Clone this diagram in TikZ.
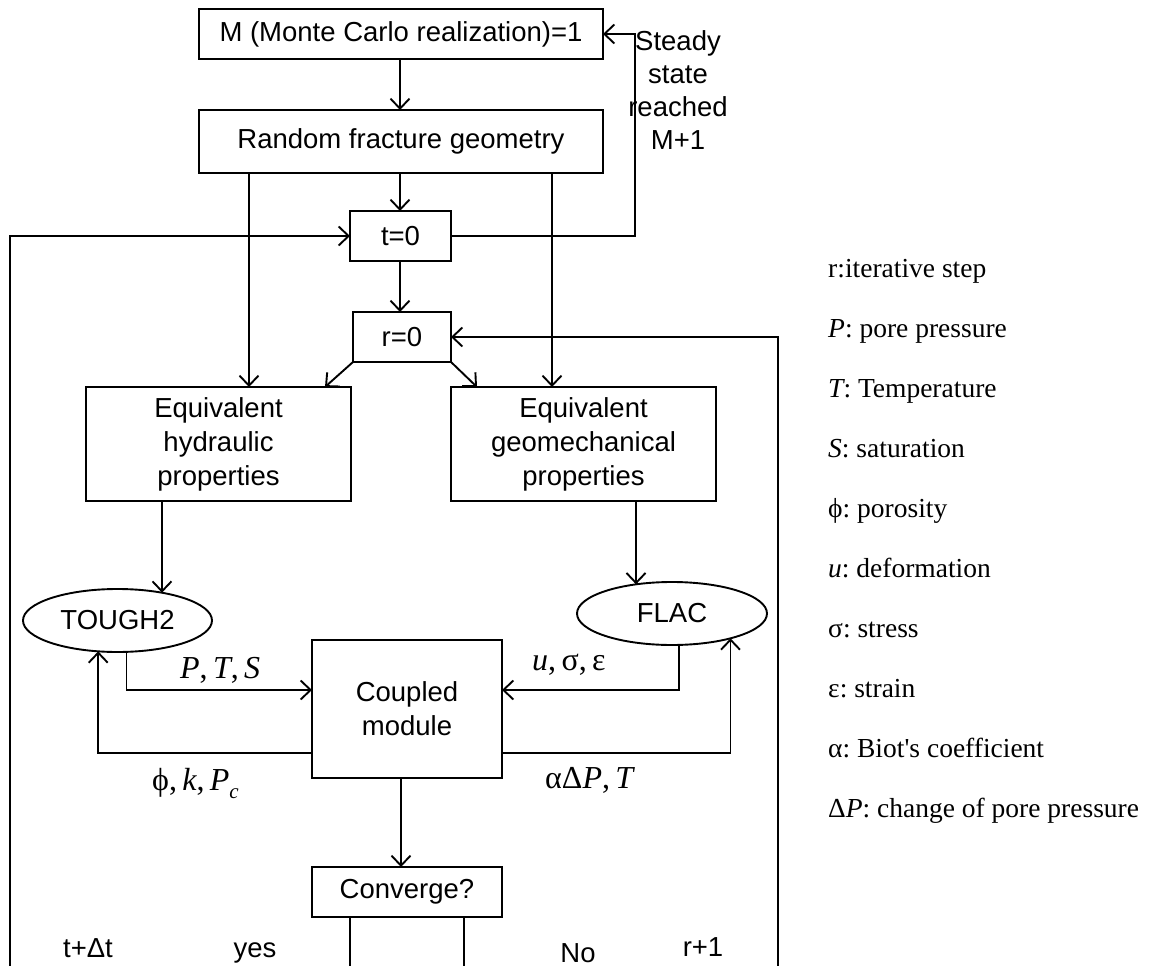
\documentclass[tikz,border=0pt]{standalone}
\usepackage{fontspec}
\setmainfont{Liberation Sans}
\newfontfamily\tnr[Ligatures=ResetAll]{Liberation Serif}
\usetikzlibrary{arrows.meta,shapes.geometric}
\begin{document}
\frenchspacing
\begin{tikzpicture}[x=1pt,y=-1pt,
  box/.style={draw,line width=1.9pt,inner sep=0pt,outer sep=0pt,align=center,font=\fontsize{27.5}{34}\selectfont},
  ell/.style={draw,ellipse,line width=1.9pt,inner sep=0pt,outer sep=0pt,font=\fontsize{27.5}{34}\selectfont},
  arr/.style={line width=1.9pt,-{Straight Barb[length=10pt,width=19pt]}},
  conn/.style={line width=1.9pt},
  lbl/.style={inner sep=0pt,font=\fontsize{27.5}{33.3}\selectfont},
  mth/.style={inner sep=0pt,anchor=base west,font=\tnr\fontsize{32}{36}\selectfont},
  leg/.style={inner sep=0pt,anchor=base west,font=\tnr\fontsize{27.5}{33}\selectfont}
]
\useasboundingbox (0,0) rectangle (1157,966);

% column / row helpers
\coordinate (c400) at (400,0);
\coordinate (c249) at (249,0);
\coordinate (c552) at (552,0);
\coordinate (c635) at (635,0);
\coordinate (c325) at (325,0);
\coordinate (c477) at (477,0);
\coordinate (c401) at (401,0);
\coordinate (c350) at (350,0);
\coordinate (c464) at (464,0);
\coordinate (r690) at (0,690);
\coordinate (r753) at (0,753);
\coordinate (lb) at (10,966);
\coordinate (rb) at (778,966);
\coordinate (bot) at (0,966);

% nodes
\node[box,minimum width=404,minimum height=50] (m) at (401,34) {M (Monte Carlo realization)=1};
\node[box,minimum width=404,minimum height=63] (rand) at (401,141.5) {Random fracture geometry};
\node[box,minimum width=101,minimum height=50] (t0) at (400.5,236) {t=0};
\node[box,minimum width=98,minimum height=50] (r0) at (402,337) {r=0};
\node[box,minimum width=265,minimum height=114] (hyd) at (218.5,444) {Equivalent\\hydraulic\\properties};
\node[box,minimum width=265,minimum height=114] (geo) at (583.5,444) {Equivalent\\geomechanical\\properties};
\node[ell,minimum width=189,minimum height=63] (tough) at (117.5,620.5) {TOUGH2};
\node[ell,minimum width=190,minimum height=63] (flac) at (672,613.5) {FLAC};
\node[box,minimum width=190,minimum height=138] (coup) at (407,709) {Coupled\\module};
\node[box,minimum width=190,minimum height=50] (conv) at (407,892) {Converge?};

\node[lbl,align=center] (steady) at (678,90) {Steady\\state\\reached\\M+1};

% connectors
\draw[arr] (m.south -| c400) -- (rand.north -| c400);
\draw[arr] (rand.south -| c400) -- (t0.north -| c400);
\draw[arr] (rand.south -| c249) -- (hyd.north -| c249);
\draw[arr] (rand.south -| c552) -- (geo.north -| c552);
\draw[arr] (t0.south -| c400) -- (r0.north -| c400);
\draw[arr] (r0.south west) -- (hyd.north -| c325);
\draw[arr] (r0.south east) -- (geo.north -| c477);
\draw[arr] (t0.east) -- (t0.east -| c635) |- (m.east);
\draw[arr] (lb) |- (t0.west);
\draw[arr] (rb) |- (r0.east);
\draw[arr] (hyd.south -| tough.32.73) -- (tough.32.73);
\draw[arr] (tough.-74.84) |- (coup.west |- r690);
\draw[arr] (coup.west |- r753) -| (tough.-122.32);
\draw[arr] (geo.south -| flac.141.9) -- (flac.141.9);
\draw[arr] (flac.-77.44) |- (coup.east |- r690);
\draw[arr] (coup.east |- r753) -| (flac.-23.85);
\draw[arr] (coup.south -| c401) -- (conv.north -| c401);
\draw[conn] (conv.south -| c350) -- (c350 |- bot);
\draw[conn] (conv.south -| c464) -- (c464 |- bot);

% connector labels
\node[mth] (lpts) at (180,678) {{\itshape P},\,{\itshape T},\,{\itshape S}};
\node[mth] (luse) at (532,670) {{\itshape u},\,σ,\,ε};
\node[mth] (lphi) at (152,790) {ϕ,\,{\itshape k},\,{\itshape P}\raisebox{-8pt}{\fontsize{21}{21}\selectfont\itshape c}};
\node[mth] (lalp) at (545,788) {αΔ{\itshape P},\,{\itshape T}};

\node[lbl,anchor=base] (ltdt) at (88,957) {t+Δt};
\node[lbl,anchor=base] (lyes) at (255,957) {yes};
\node[lbl,anchor=base] (lno) at (578,962) {No};
\node[lbl,anchor=base] (lr1) at (703,956) {r+1};

% legend
\node[leg] (g0) at (828,277) {r:iterative step};
\node[leg] (g1) at (828,337) {{\itshape P}: pore pressure};
\node[leg] (g2) at (828,397) {{\itshape T}: Temperature};
\node[leg] (g3) at (828,457) {{\itshape S}: saturation};
\node[leg] (g4) at (828,517) {ϕ: porosity};
\node[leg] (g5) at (828,577) {{\itshape u}: deformation};
\node[leg] (g6) at (828,637) {σ: stress};
\node[leg] (g7) at (828,697) {ε: strain};
\node[leg] (g8) at (828,757) {α: Biot's coefficient};
\node[leg] (g9) at (828,817) {Δ{\itshape P}: change of pore pressure};
\end{tikzpicture}
\end{document}
